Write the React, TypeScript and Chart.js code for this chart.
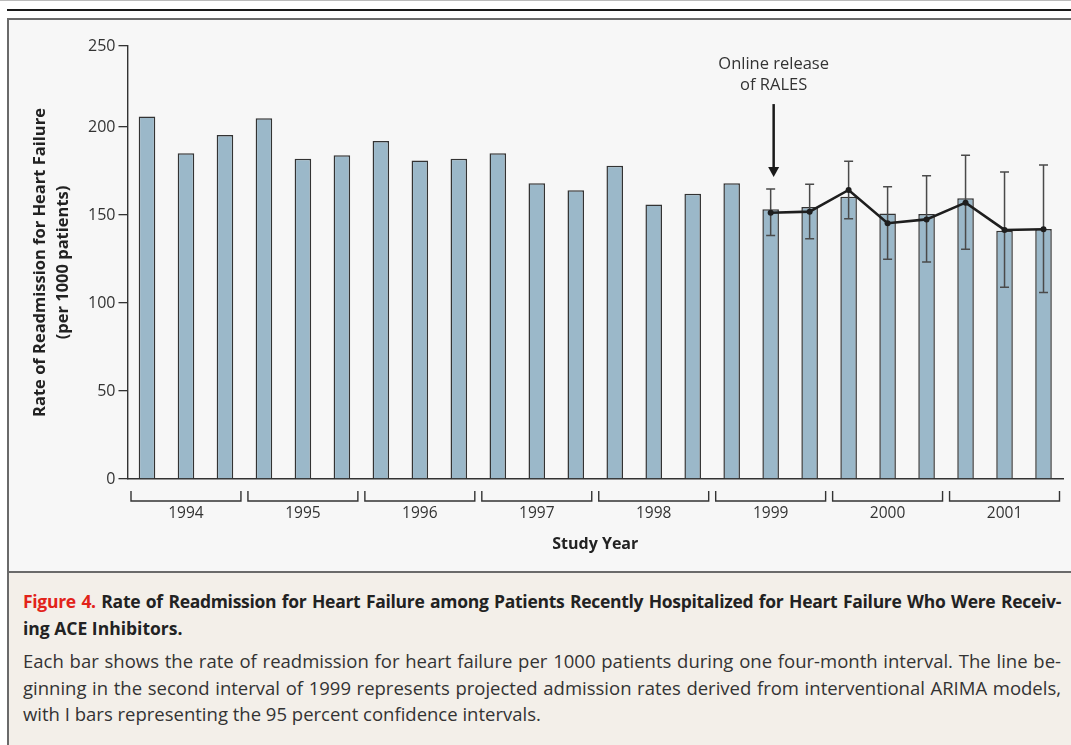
import React, { useEffect, useRef } from "react";
import { Chart, registerables } from "chart.js";

Chart.register(...registerables);

const years = ["1994", "1995", "1996", "1997", "1998", "1999", "2000", "2001"];
const intervals = years.flatMap((y) => [`${y}-1`, `${y}-2`, `${y}-3`]);
const observedRates = [
  206, 185, 195.5, 205, 182, 184, 192, 181, 182, 185, 168, 164,
  178, 156, 162, 168, 153.2, 154.6, 160.4, 150.9, 150.6, 159.5, 141.1, 142,
];
const projectedRates = [
  null, null, null, null, null, null, null, null, null, null, null, null,
  null, null, null, null, 151.3, 151.9, 164.2, 145.3, 147.5, 157, 141.5, 141.9,
];
const ciUpper = [
  null, null, null, null, null, null, null, null, null, null, null, null,
  null, null, null, null, 164.8, 167.4, 180.5, 166.1, 172.3, 183.9, 174.4, 178.4,
];
const ciLower = [
  null, null, null, null, null, null, null, null, null, null, null, null,
  null, null, null, null, 138.3, 136.5, 147.9, 124.8, 123.3, 130.5, 108.9, 105.9,
];
const yTickValues = [0, 50, 100, 150, 200, 246];
const yTickLabels = ["0", "50", "100", "150", "200", "250"];
const releaseIndex = 16;
const arrowFrom = 213;
const arrowTo = 171.6;

const FONT = "'Open Sans', 'Noto Sans', sans-serif";

const errorBarsPlugin = {
  id: "errorBars",
  afterDatasetDraw(chart: any, args: any) {
    if (args.index !== 0) return;
    const { ctx } = chart;
    const x = chart.scales.x;
    const y = chart.scales.y;
    ctx.save();
    ctx.strokeStyle = "#4a4a4a";
    ctx.lineWidth = 1.5;
    for (let i = 0; i < intervals.length; i++) {
      const hi = ciUpper[i];
      const lo = ciLower[i];
      if (hi == null || lo == null) continue;
      const px = x.getPixelForValue(i);
      const yh = y.getPixelForValue(hi);
      const yl = y.getPixelForValue(lo);
      ctx.beginPath();
      ctx.moveTo(px, yh);
      ctx.lineTo(px, yl);
      ctx.moveTo(px - 4.5, yh);
      ctx.lineTo(px + 4.5, yh);
      ctx.moveTo(px - 4.5, yl);
      ctx.lineTo(px + 4.5, yl);
      ctx.stroke();
    }
    ctx.restore();
  },
};

const annotationPlugin = {
  id: "annotations",
  afterDraw(chart: any) {
    const { ctx, chartArea } = chart;
    const x = chart.scales.x;
    const y = chart.scales.y;
    ctx.save();
    // year brackets
    ctx.strokeStyle = "#333";
    ctx.lineWidth = 1.4;
    const cat = (chartArea.right - chartArea.left) / intervals.length;
    const top = chartArea.bottom + 12;
    const bot = chartArea.bottom + 22;
    for (let k = 0; k < years.length; k++) {
      const x1 = x.getPixelForValue(3 * k) - cat / 2 + 3.5;
      const x2 = x.getPixelForValue(3 * k + 2) + cat / 2 - 3.5;
      ctx.beginPath();
      ctx.moveTo(x1, top);
      ctx.lineTo(x1, bot);
      ctx.lineTo(x2, bot);
      ctx.lineTo(x2, top);
      ctx.stroke();
    }
    // arrow
    const ax = x.getPixelForValue(releaseIndex) + 3;
    const y1 = y.getPixelForValue(arrowFrom);
    const y2 = y.getPixelForValue(arrowTo);
    ctx.strokeStyle = "#1a1a1a";
    ctx.fillStyle = "#1a1a1a";
    ctx.lineWidth = 2.5;
    ctx.beginPath();
    ctx.moveTo(ax, y1);
    ctx.lineTo(ax, y2 - 8);
    ctx.stroke();
    ctx.beginPath();
    ctx.moveTo(ax - 5.5, y2 - 10);
    ctx.lineTo(ax + 5.5, y2 - 10);
    ctx.lineTo(ax, y2);
    ctx.closePath();
    ctx.fill();
    ctx.font = `16.5px ${FONT}`;
    ctx.fillStyle = "#333";
    ctx.textAlign = "center";
    ctx.textBaseline = "middle";
    ctx.fillText("Online release", ax, 64);
    ctx.fillText("of RALES", ax, 85);
    ctx.restore();
  },
};

function ChartCanvas() {
  const ref = useRef<HTMLCanvasElement | null>(null);
  useEffect(() => {
    if (!ref.current) return;
    const chart = new Chart(ref.current, {
      type: "bar",
      data: {
        labels: intervals,
        datasets: [
          {
            type: "bar",
            data: observedRates,
            backgroundColor: "#9bb8c9",
            borderColor: "#333",
            borderWidth: 1.5,
            barPercentage: 0.425,
            categoryPercentage: 1,
            order: 1,
          } as any,
          {
            type: "line",
            data: projectedRates,
            borderColor: "#1e1e1e",
            borderWidth: 2.6,
            pointRadius: 3,
            pointBackgroundColor: "#1e1e1e",
            pointBorderWidth: 0,
            tension: 0,
            spanGaps: false,
            order: 0,
          } as any,
        ],
      },
      options: {
        animation: false,
        responsive: false,
        devicePixelRatio: 1,
        layout: { padding: { top: 46, right: 8, left: 0, bottom: 0 } },
        plugins: { legend: { display: false }, tooltip: { enabled: false } },
        scales: {
          x: {
            type: "category",
            grid: { display: false, drawTicks: false },
            border: { display: true, color: "#333", width: 1.4 },
            ticks: {
              autoSkip: false,
              maxRotation: 0,
              padding: 25,
              color: "#333",
              font: { family: FONT, size: 15.5 },
              callback: (_v: any, i: number) => (i % 3 === 1 ? years[Math.floor(i / 3)] : ""),
            },
            title: {
              display: true,
              text: "Study Year",
              color: "#222",
              font: { family: FONT, size: 16, weight: "bold" },
              padding: { top: 0, bottom: 19 },
            },
            afterFit: (s: any) => {
              s.height = 94;
            },
          },
          y: {
            min: 0,
            max: 246,
            afterBuildTicks: (s: any) => {
              s.ticks = yTickValues.map((v) => ({ value: v }));
            },
            grid: { drawOnChartArea: false, drawTicks: true, tickLength: 9, color: "#333", lineWidth: 1.3 },
            border: { display: true, color: "#333", width: 1.4 },
            ticks: {
              padding: 3,
              color: "#333",
              font: { family: FONT, size: 16 },
              callback: (v: any) => yTickLabels[yTickValues.indexOf(v)] ?? "",
            },
            title: {
              display: true,
              text: ["Rate of Readmission for Heart Failure", "(per 1000 patients)"],
              color: "#222",
              font: { family: FONT, size: 16.5, weight: "bold", lineHeight: 1.4 },
              padding: { top: 28.5, bottom: 0 },
            },
            afterFit: (s: any) => {
              s.width = 127.5;
            },
          },
        },
      },
      plugins: [errorBarsPlugin, annotationPlugin],
    });
    return () => chart.destroy();
  }, []);
  return (
    <canvas
      ref={ref}
      width={1071}
      height={573}
      style={{ position: "absolute", left: 0, top: 0, width: 1071, height: 573 }}
    />
  );
}

export default function App() {
  const line: React.CSSProperties = { whiteSpace: "nowrap", position: "absolute", left: 23, lineHeight: "25px" };
  const full: React.CSSProperties = { ...line, width: 1038, textAlign: "justify", textAlignLast: "justify" as any };
  return (
    <div
      style={{
        position: "absolute",
        left: 0,
        top: 0,
        width: 1071,
        height: 745,
        overflow: "hidden",
        background: "#ffffff",
        fontFamily: FONT,
      }}
    >
      <div style={{ position: "absolute", left: 0, top: 0, width: 1071, height: 1, background: "#bbb" }} />
      <div style={{ position: "absolute", left: 7, top: 9, width: 1080, height: 2, background: "#1a1a1a" }} />
      <div
        style={{
          position: "absolute",
          left: 7,
          top: 18,
          width: 1080,
          height: 555,
          boxSizing: "border-box",
          border: "2px solid #6a6a6a",
          background: "#f7f7f7",
        }}
      />
      <div
        style={{
          position: "absolute",
          left: 7,
          top: 573,
          width: 1080,
          height: 180,
          boxSizing: "border-box",
          borderLeft: "2px solid #6a6a6a",
          background: "#f3efe9",
        }}
      />
      <ChartCanvas />
      <div style={{ ...full, top: 589, fontSize: 17.5, fontWeight: 700, color: "#222", letterSpacing: -0.3 }}>
        <span style={{ color: "#e2231a" }}>Figure 4.</span> Rate of Readmission for Heart Failure among Patients
        Recently Hospitalized for Heart Failure Who Were Receiv-
      </div>
      <div style={{ ...line, top: 616, fontSize: 17.5, fontWeight: 700, color: "#222" }}>ing ACE Inhibitors.</div>
      <div style={{ ...full, top: 648, fontSize: 18.5, color: "#333" }}>
        Each bar shows the rate of readmission for heart failure per 1000 patients during one four-month interval. The
        line be-
      </div>
      <div style={{ ...full, top: 675, fontSize: 18.5, color: "#333" }}>
        ginning in the second interval of 1999 represents projected admission rates derived from interventional ARIMA
        models,
      </div>
      <div style={{ ...line, top: 701, fontSize: 18.5, color: "#333" }}>
        with I bars representing the 95 percent confidence intervals.
      </div>
    </div>
  );
}
